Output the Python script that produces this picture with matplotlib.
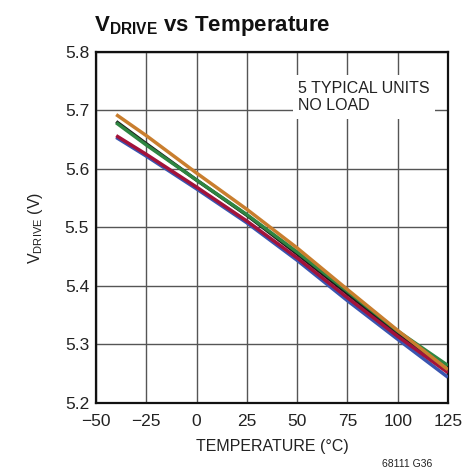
import matplotlib
matplotlib.use("Agg")
import matplotlib.pyplot as plt
from matplotlib import font_manager

names = {f.name for f in font_manager.fontManager.ttflist}
FONT = 'Liberation Sans Narrow' if 'Liberation Sans Narrow' in names else 'Liberation Sans'
plt.rcParams['font.family'] = [FONT, 'DejaVu Sans']
plt.rcParams['mathtext.fontset'] = 'custom'
plt.rcParams['mathtext.rm'] = FONT
plt.rcParams['mathtext.it'] = FONT
plt.rcParams['mathtext.bf'] = FONT + ':bold'

temps = [-40, -25, 0, 25, 50, 75, 100, 125]
unit_blue = [5.654, 5.622, 5.566, 5.508, 5.444, 5.375, 5.309, 5.244]
unit_black = [5.681, 5.643, 5.581, 5.521, 5.455, 5.387, 5.318, 5.256]
unit_red = [5.657, 5.625, 5.569, 5.511, 5.448, 5.380, 5.314, 5.252]
unit_green = [5.679, 5.641, 5.581, 5.522, 5.458, 5.391, 5.323, 5.264]
unit_orange = [5.693, 5.657, 5.593, 5.531, 5.465, 5.394, 5.324, 5.257]

xticks = [-50, -25, 0, 25, 50, 75, 100, 125]
yticks = [5.2, 5.3, 5.4, 5.5, 5.6, 5.7, 5.8]

fig = plt.figure(figsize=(4.71, 4.71), dpi=100)
ax = fig.add_axes([0.204, 0.1444, 0.747, 0.7452])

series = [(unit_blue, '#3a55b0'), (unit_black, '#1a1a1a'), (unit_red, '#a3123a'),
          (unit_green, '#2e8541'), (unit_orange, '#c97e2e')]
for vals, col in series:
    ax.plot(temps, vals, color=col, lw=2.5, solid_capstyle='butt', zorder=3)

ax.set_xlim(-50, 125)
ax.set_ylim(5.2, 5.8)
ax.set_xticks(xticks)
ax.set_yticks(yticks)
ax.set_xticklabels(['\u221250', '\u221225', '0', '25', '50', '75', '100', '125'])
ax.set_yticklabels([f'{v:.1f}' for v in yticks])
ax.grid(True, color='#555555', lw=1.0)
ax.set_axisbelow(True)
ax.tick_params(length=0, labelsize=12.5, colors='#222222')
ax.tick_params(axis='x', pad=8)
ax.tick_params(axis='y', pad=5)
for s in ax.spines.values():
    s.set_linewidth(1.6)
    s.set_color('#111111')

ax.set_xlabel('TEMPERATURE (°C)', fontsize=11.5, color='#222222', labelpad=7)
ax.set_ylabel(r'V$_{\mathrm{DRIVE}}$ (V)', fontsize=11.5, color='#222222', labelpad=14)

ax.text(50.5, 5.751, '5 TYPICAL UNITS\nNO LOAD', fontsize=11.5, color='#222222',
        va='top', ha='left', linespacing=1.2, zorder=2,
        bbox=dict(facecolor='white', edgecolor='none', pad=4))

fig.text(0.2, 0.935, r'$\mathbf{V_{DRIVE}}$ vs Temperature', fontsize=16,
         fontweight='bold', color='#111111', ha='left', va='baseline')
fig.text(0.918, 0.004, '68111 G36', fontsize=7.5, color='#222222', ha='right', va='bottom')

fig.savefig('out.png', dpi=100)
